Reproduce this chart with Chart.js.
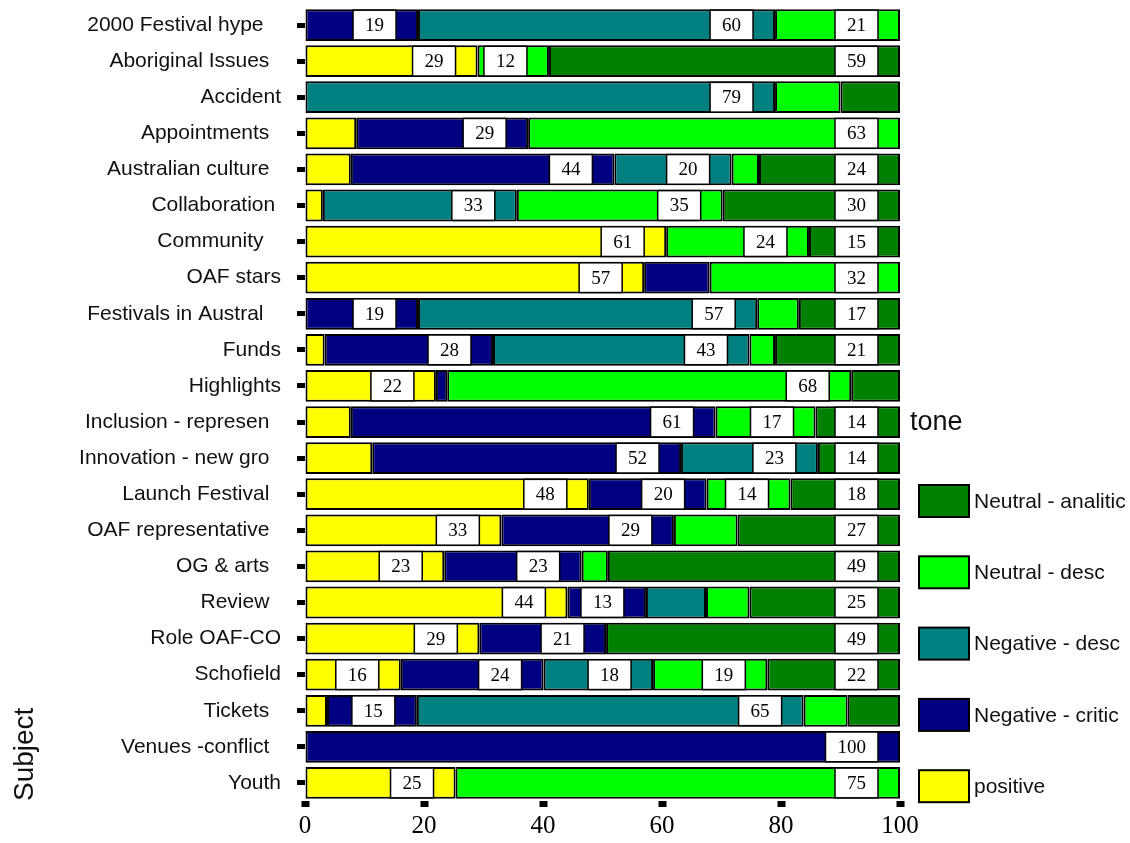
<!DOCTYPE html>
<html>
<head>
<meta charset="utf-8">
<script src="https://cdn.jsdelivr.net/npm/chart.js@4.4.1/dist/chart.umd.min.js"></script>
<style>
  body { margin: 0; background: #fff; }
</style>
</head>
<body>
<canvas id="toneChart" width="1130" height="843"></canvas>
<script>
// subjects, top to bottom (trailing spaces as in the original labels)
var subjects = [
  "2000 Festival hype   ", "Aboriginal Issues  ", "Accident", "Appointments  ",
  "Australian culture  ", "Collaboration ", "Community   ", "OAF stars",
  "Festivals in Austral   ", "Funds", "Highlights", "Inclusion - represen  ",
  "Innovation - new gro  ", "Launch Festival  ", "OAF representative  ",
  "OG & arts  ", "Review  ", "Role OAF-CO", "Schofield", "Tickets  ",
  "Venues -conflict  ", "Youth"
];

// percentages per tone
var positive    = [0, 29, 0, 8.6, 7.7, 3.0, 60.7, 57, 0, 3.3, 22, 7.7, 11.3, 47.7, 33, 23.4, 44.1, 29.3, 16.1, 3.7, 0, 25.3];
var negCritic   = [19, 0, 0, 28.9, 44.3, 0, 0, 11, 19, 28.3, 1.9, 61.3, 51.9, 19.8, 29, 23.1, 13.2, 21.3, 24, 15.1, 100, 0];
var negDesc     = [60, 0, 79, 0, 19.7, 32.6, 0, 0, 57, 43.1, 0, 0, 23, 0, 0, 0, 10.1, 0, 18.4, 65, 0, 0];
var neutDesc    = [21, 12, 11, 62.5, 4.6, 34.6, 24, 32, 7, 4.3, 67.9, 16.8, 0, 14.1, 10.7, 4.4, 7.3, 0, 19.2, 7.4, 0, 74.7];
var neutAnalit  = [0, 59, 10, 0, 23.7, 29.8, 15.3, 0, 17, 21, 8.2, 14.2, 13.8, 18.4, 27.3, 49.1, 25.3, 49.4, 22.3, 8.8, 0, 0];

var toneNames  = ["positive", "Negative - critic", "Negative - desc", "Neutral - desc", "Neutral - analitic"];
var toneColors = ["#ffff00", "#000080", "#008080", "#00ff00", "#008000"];
var xTicks = [0, 20, 40, 60, 80, 100];

var SANS = "'Liberation Sans', Arial, sans-serif";
var SERIF = "'Liberation Serif', 'Times New Roman', serif";

function sinCeros(arr) {
  // zero segments are not drawn
  return arr.map(function (v) { return v === 0 ? null : v; });
}

var series = [positive, negCritic, negDesc, neutDesc, neutAnalit];
var datasets = series.map(function (s, i) {
  return {
    label: toneNames[i],
    data: sinCeros(s),
    backgroundColor: toneColors[i],
    borderColor: "#000",
    borderWidth: 2,
    borderSkipped: false,
    barPercentage: 0.88,
    categoryPercentage: 1.0
  };
});

// white boxes with the rounded value, at the right end of each big segment
var etiquetas = {
  id: "etiquetas",
  afterDatasetsDraw: function (chart) {
    var ctx = chart.ctx;
    ctx.save();
    ctx.font = "19px " + SERIF;
    ctx.textAlign = "center";
    ctx.textBaseline = "middle";
    chart.data.datasets.forEach(function (ds, di) {
      var meta = chart.getDatasetMeta(di);
      meta.data.forEach(function (bar, j) {
        var v = ds.data[j];
        if (v == null || v < 11.5) return;
        var p = bar.getProps(["x", "y", "height"], true);
        var txt = String(Math.round(v));
        var w = ctx.measureText(txt).width + 24;
        var right = p.x - 22;
        var top = p.y - p.height / 2 + 1;
        var h = p.height - 2;
        ctx.fillStyle = "#fff";
        ctx.fillRect(right - w, top, w, h);
        ctx.strokeStyle = "#000";
        ctx.lineWidth = 1.5;
        ctx.strokeRect(right - w, top, w, h);
        ctx.fillStyle = "#000";
        ctx.fillText(txt, right - w / 2, p.y + 1);
      });
    });
    ctx.restore();
  }
};

// legend on the right, top item is the last tone
var leyenda = {
  id: "leyenda",
  afterDraw: function (chart) {
    var ctx = chart.ctx;
    ctx.save();
    ctx.fillStyle = "#111";
    ctx.textBaseline = "middle";
    ctx.textAlign = "left";
    ctx.font = "27px " + SANS;
    ctx.fillText("tone", 910, 423);
    ctx.font = "21px " + SANS;
    for (var k = 0; k < toneNames.length; k++) {
      var i = toneNames.length - 1 - k;
      var cy = 501 + k * 71.3;
      ctx.fillStyle = toneColors[i];
      ctx.fillRect(919, cy - 16, 50, 32);
      ctx.strokeStyle = "#000";
      ctx.lineWidth = 2;
      ctx.strokeRect(919, cy - 16, 50, 32);
      ctx.fillStyle = "#111";
      ctx.fillText(toneNames[i], 974, cy + 1);
    }
    ctx.restore();
  }
};

new Chart(document.getElementById("toneChart"), {
  type: "bar",
  data: { labels: subjects, datasets: datasets },
  options: {
    indexAxis: "y",
    responsive: false,
    animation: false,
    layout: { padding: { top: 7, right: 230, left: 0, bottom: 0 } },
    plugins: {
      legend: { display: false },
      tooltip: { enabled: false }
    },
    scales: {
      x: {
        stacked: true,
        min: 0,
        max: 100,
        afterFit: function (scale) {
          scale.height = 42;
          scale.paddingLeft = 0;
          scale.paddingRight = 0;
        },
        afterBuildTicks: function (scale) {
          scale.ticks = xTicks.map(function (v) { return { value: v }; });
        },
        border: { display: false },
        grid: {
          drawOnChartArea: false,
          drawTicks: true,
          tickLength: 6,
          tickWidth: 8,
          tickColor: "#000"
        },
        ticks: {
          color: "#000",
          padding: 4,
          maxRotation: 0,
          font: { family: SERIF, size: 25 }
        }
      },
      y: {
        stacked: true,
        afterFit: function (scale) {
          scale.width = 305;
          scale.paddingTop = 0;
          scale.paddingBottom = 0;
        },
        border: { display: false },
        grid: {
          offset: false,
          drawOnChartArea: false,
          drawTicks: true,
          tickLength: 8,
          tickWidth: 5,
          tickColor: "#000"
        },
        ticks: {
          color: "#111",
          padding: 16,
          autoSkip: false,
          font: { family: SANS, size: 21 }
        },
        title: {
          display: true,
          text: "Subject",
          align: "start",
          color: "#111",
          padding: { top: 8, bottom: 0 },
          font: { family: SANS, size: 28 }
        }
      }
    }
  },
  plugins: [etiquetas, leyenda]
});
</script>
</body>
</html>
